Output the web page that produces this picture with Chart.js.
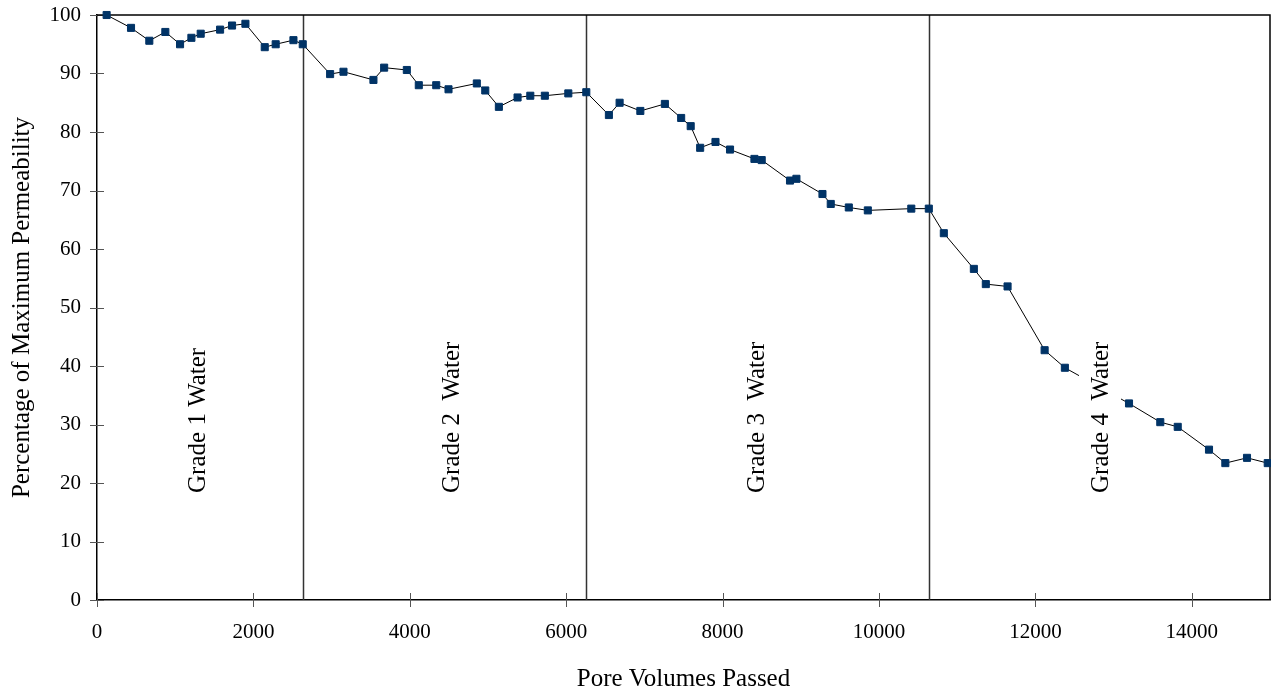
<!DOCTYPE html>
<html>
<head>
<meta charset="utf-8">
<script src="https://cdn.jsdelivr.net/npm/chart.js@4"></script>
<style>
  body { margin: 0; background: #fff; }
  #chart { display: block; }
</style>
</head>
<body>
<canvas id="chart" width="1271" height="698"></canvas>
<script>
// pore volumes passed (x) and % of max permeability (y)
const poreVolumes = [
  123, 435, 669, 874, 1062, 1207, 1326, 1574, 1727, 1898, 2145, 2285, 2512, 2631,
  2981, 3152, 3535, 3672, 3962, 4115, 4338, 4495, 4857, 4965, 5139, 5378, 5541,
  5727, 6027, 6257, 6546, 6683, 6948, 7262, 7470, 7592, 7713, 7909, 8095, 8407,
  8500, 8862, 8944, 9277, 9383, 9614, 9857, 10413, 10637, 10829, 11213, 11366,
  11644, 12118, 12377, 13197, 13597, 13820, 14220, 14429, 14706, 14971
];
const permeability = [
  100, 97.8, 95.6, 97.1, 95.0, 96.1, 96.8, 97.5, 98.2, 98.5, 94.5, 95.0, 95.7, 95.0,
  89.9, 90.3, 88.9, 91.0, 90.6, 88.0, 88.0, 87.3, 88.3, 87.1, 84.3, 85.9, 86.2,
  86.2, 86.6, 86.8, 82.9, 85.0, 83.6, 84.8, 82.4, 81.0, 77.3, 78.3, 77.0, 75.4,
  75.2, 71.7, 72.0, 69.4, 67.7, 67.1, 66.6, 66.9, 66.9, 62.7, 56.6, 54.0,
  53.6, 42.7, 39.7, 33.6, 30.4, 29.6, 25.7, 23.4, 24.3, 23.4
];

// tick values
const xTicks = [0, 2000, 4000, 6000, 8000, 10000, 12000, 14000];
const yTicks = [0, 10, 20, 30, 40, 50, 60, 70, 80, 90, 100];

// where the water grade changes
const gradeChanges = [2631, 6257, 10637];
const gradeLabels = ["Grade 1 Water", "Grade 2  Water", "Grade 3  Water", "Grade 4  Water"];
const gradeLabelX = [1283, 4533, 8436, 12826];
const gradeLabelStartY = 18.3;

const serif = "'Liberation Serif', 'Times New Roman', serif";
Chart.defaults.font.family = serif;
Chart.defaults.color = "#000";

function makePoints(xs, ys) {
  let pts = [];
  for (let i = 0; i < xs.length; i++) {
    pts.push({ x: xs[i], y: ys[i] });
  }
  return pts;
}

function toTicks(values) {
  return values.map((v) => ({ value: v }));
}

// frame, crossing tick marks, grade lines and grade labels
const decorPlugin = {
  id: "decor",
  beforeDatasetsDraw(chart) {
    const ctx = chart.ctx;
    const area = chart.chartArea;
    const xs = chart.scales.x;
    const ys = chart.scales.y;
    ctx.save();

    // grade boundaries
    ctx.strokeStyle = "#333";
    ctx.lineWidth = 1.5;
    gradeChanges.forEach((v) => {
      let px = Math.round(xs.getPixelForValue(v)) + 0.5;
      ctx.beginPath();
      ctx.moveTo(px, area.top);
      ctx.lineTo(px, area.bottom);
      ctx.stroke();
    });

    // tick marks across the axes
    ctx.strokeStyle = "#555";
    ctx.lineWidth = 1;
    xs.ticks.forEach((t) => {
      let px = Math.round(xs.getPixelForValue(t.value)) + 0.5;
      ctx.beginPath();
      ctx.moveTo(px, area.bottom - 7);
      ctx.lineTo(px, area.bottom + 7);
      ctx.stroke();
    });
    ys.ticks.forEach((t) => {
      let py = Math.round(ys.getPixelForValue(t.value)) + 0.5;
      ctx.beginPath();
      ctx.moveTo(area.left - 7, py);
      ctx.lineTo(area.left + 7, py);
      ctx.stroke();
    });

    // top and right border of the plot
    ctx.strokeStyle = "#000";
    ctx.lineWidth = 1.5;
    ctx.beginPath();
    ctx.moveTo(area.left, area.top);
    ctx.lineTo(area.right, area.top);
    ctx.lineTo(area.right, area.bottom);
    ctx.stroke();
    ctx.restore();
  },
  afterDatasetsDraw(chart) {
    const ctx = chart.ctx;
    const xs = chart.scales.x;
    const ys = chart.scales.y;
    ctx.save();
    ctx.font = "25px " + serif;
    ctx.textAlign = "left";
    ctx.textBaseline = "middle";
    for (let i = 0; i < gradeLabels.length; i++) {
      let px = xs.getPixelForValue(gradeLabelX[i]);
      let py = ys.getPixelForValue(gradeLabelStartY);
      let w = ctx.measureText(gradeLabels[i]).width;
      ctx.save();
      ctx.translate(px, py);
      ctx.rotate(-Math.PI / 2);
      if (i == 3) {
        // last label sits on a white box over the curve
        ctx.fillStyle = "#fff";
        ctx.fillRect(-4, -21, w + 8, 42);
      }
      ctx.fillStyle = "#000";
      ctx.fillText(gradeLabels[i], 0, 1);
      ctx.restore();
    }
    ctx.restore();
  },
};

const chart = new Chart(document.getElementById("chart"), {
  type: "line",
  data: {
    datasets: [
      {
        data: makePoints(poreVolumes, permeability),
        borderColor: "#000",
        borderWidth: 1,
        tension: 0,
        pointStyle: "rect",
        pointRadius: 5,
        pointBackgroundColor: "#003366",
        pointBorderColor: "#003366",
        pointBorderWidth: 1,
        clip: false,
      },
    ],
  },
  options: {
    responsive: false,
    animation: false,
    events: [],
    layout: { autoPadding: false, padding: { top: 15, right: 1, left: 0, bottom: 0 } },
    plugins: {
      legend: { display: false },
      tooltip: { enabled: false },
    },
    scales: {
      x: {
        type: "linear",
        min: 0,
        max: 15000,
        grid: { display: false, drawTicks: false },
        border: { display: true, color: "#000", width: 1.5 },
        ticks: {
          padding: 20,
          autoSkip: false,
          maxRotation: 0,
          font: { size: 21 },
          callback: (v) => String(v),
        },
        afterBuildTicks(scale) {
          scale.ticks = toTicks(xTicks);
        },
        title: {
          display: true,
          text: "Pore Volumes Passed",
          font: { size: 25 },
          padding: { top: 0, bottom: 4 },
        },
        afterFit(scale) {
          scale.height = 98;
          scale.paddingLeft = 0;
          scale.paddingRight = 0;
        },
      },
      y: {
        min: 0,
        max: 100,
        grid: { display: false, drawTicks: false },
        border: { display: true, color: "#000", width: 1.5 },
        ticks: {
          padding: 16,
          autoSkip: false,
          font: { size: 21 },
          callback: (v) => String(v),
        },
        afterBuildTicks(scale) {
          scale.ticks = toTicks(yTicks);
        },
        title: {
          display: true,
          text: "Percentage of Maximum Permeability",
          font: { size: 25 },
          padding: { top: 7, bottom: 0 },
        },
        afterFit(scale) {
          scale.width = 97;
          scale.paddingTop = 0;
          scale.paddingBottom = 0;
        },
      },
    },
  },
  plugins: [decorPlugin],
});
</script>
</body>
</html>
